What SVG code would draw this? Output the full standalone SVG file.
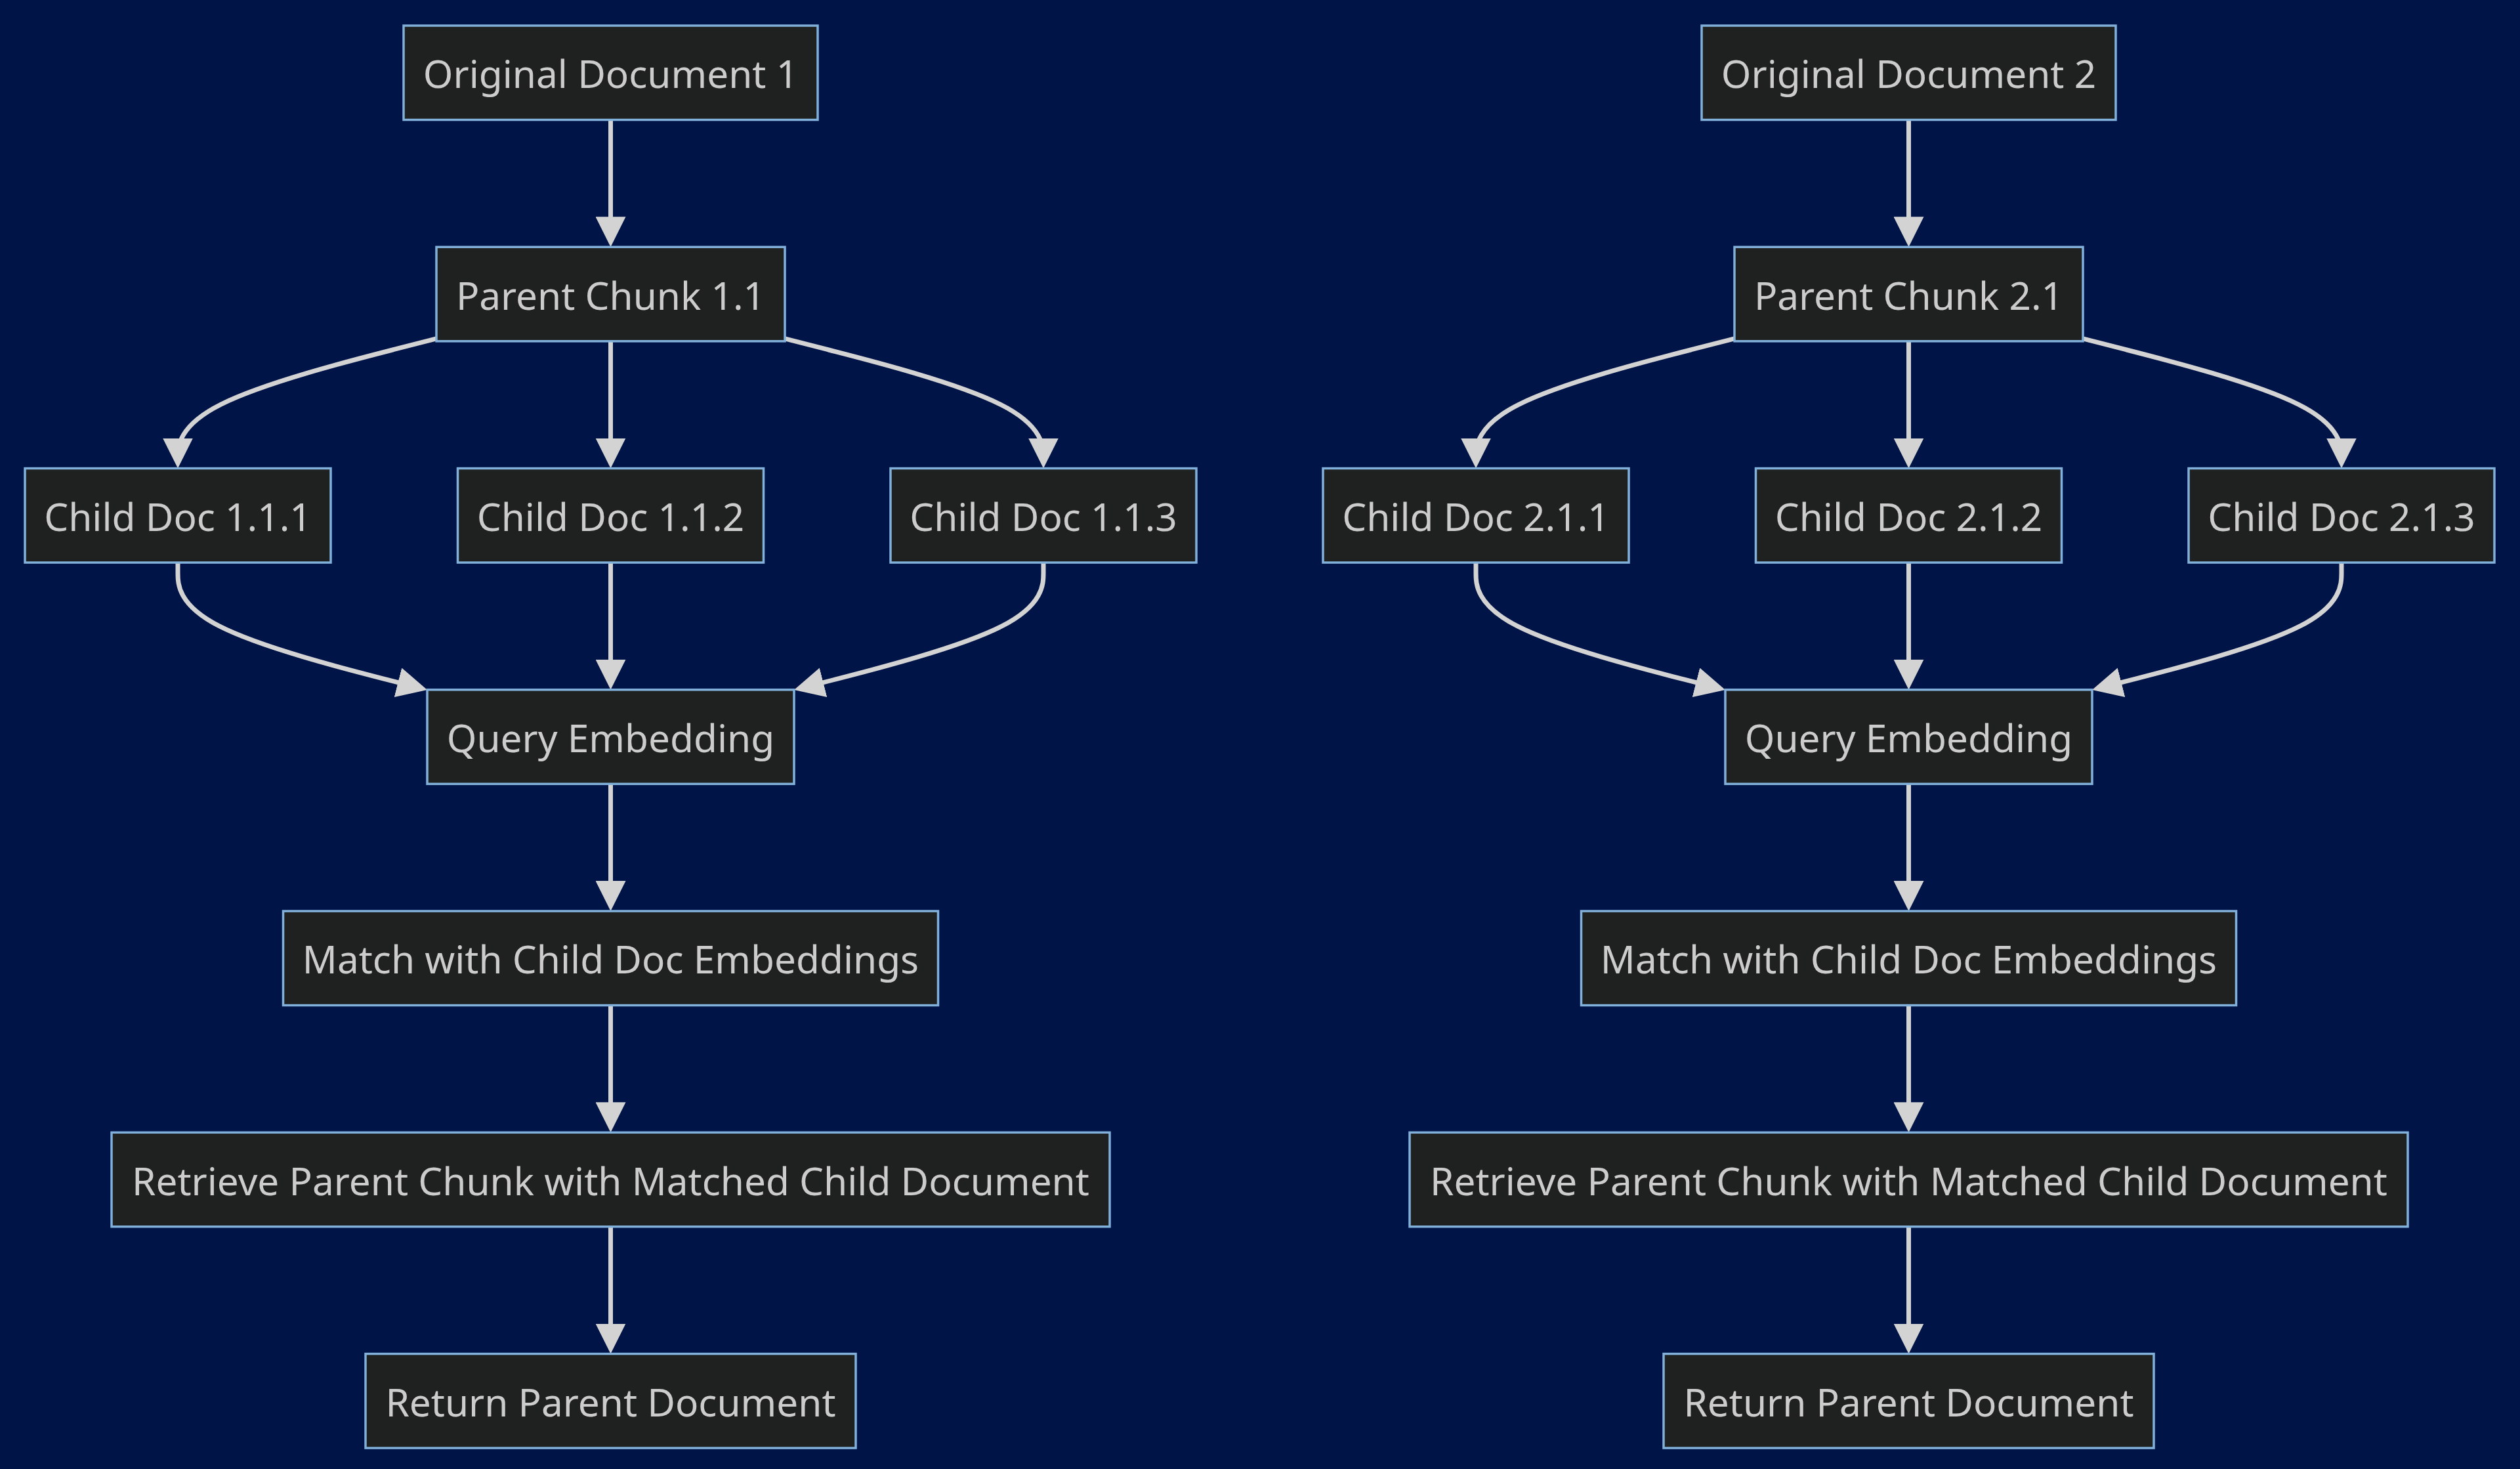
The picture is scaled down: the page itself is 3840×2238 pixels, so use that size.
<svg xmlns="http://www.w3.org/2000/svg" width="3840" height="2238" viewBox="0 0 3840 2238">
<style>
.node rect{fill:#1f2020;stroke:#81b1db;stroke-width:3.5}
.node text{fill:#cccccc;font-family:"Noto Sans","Open Sans","DejaVu Sans",sans-serif;font-size:58.5px;text-anchor:middle}
.edge{fill:none;stroke:#d3d3d3;stroke-width:7;marker-end:url(#arrow)}
</style>
<defs>
<marker id="arrow" markerUnits="userSpaceOnUse" viewBox="0 0 46 46" markerWidth="46" markerHeight="46" refX="38" refY="23" orient="auto">
<path d="M0,0 L46,23 L0,46 z" fill="#d3d3d3"/>
</marker>
</defs>
<rect x="0" y="0" width="3840" height="2238" fill="#011447"/>
<g id="connectors">
<path class="edge" d="M930.5,182.55 L930.5,368.3"/>
<path class="edge" d="M665,515.94 L599.33,532.73 C533.67,549.52 402.33,583.1 336.67,616.04 C271,648.97 271,681.26 271,697.4 L271,705.55"/>
<path class="edge" d="M930.5,519.8 L930.5,705.55"/>
<path class="edge" d="M1196,515.94 L1261.67,532.73 C1327.33,549.52 1458.67,583.1 1524.33,616.04 C1590,648.97 1590,681.26 1590,697.4 L1590,705.55"/>
<path class="edge" d="M271,857.05 L271,873.2 C271,889.34 271,921.64 334.33,953.98 C397.67,986.32 524.33,1018.7 587.67,1034.9 L643.25,1049.11"/>
<path class="edge" d="M930.5,857.05 L930.5,1042.8"/>
<path class="edge" d="M1590,857.05 L1590,873.2 C1590,889.34 1590,921.64 1526.67,953.98 C1463.33,986.32 1336.67,1018.7 1273.33,1034.9 L1217.75,1049.11"/>
<path class="edge" d="M930.5,1194.3 L930.5,1380.05"/>
<path class="edge" d="M930.5,1531.55 L930.5,1717.3"/>
<path class="edge" d="M930.5,1868.8 L930.5,2054.55"/>
<path class="edge" d="M2908.5,182.55 L2908.5,368.3"/>
<path class="edge" d="M2643,515.94 L2577.33,532.73 C2511.67,549.52 2380.33,583.1 2314.67,616.04 C2249,648.97 2249,681.26 2249,697.4 L2249,705.55"/>
<path class="edge" d="M2908.5,519.8 L2908.5,705.55"/>
<path class="edge" d="M3174,515.94 L3239.67,532.73 C3305.33,549.52 3436.67,583.1 3502.33,616.04 C3568,648.97 3568,681.26 3568,697.4 L3568,705.55"/>
<path class="edge" d="M2249,857.05 L2249,873.2 C2249,889.34 2249,921.64 2312.33,953.98 C2375.67,986.32 2502.33,1018.7 2565.67,1034.9 L2621.25,1049.11"/>
<path class="edge" d="M2908.5,857.05 L2908.5,1042.8"/>
<path class="edge" d="M3568,857.05 L3568,873.2 C3568,889.34 3568,921.64 3504.67,953.98 C3441.33,986.32 3314.67,1018.7 3251.33,1034.9 L3195.75,1049.11"/>
<path class="edge" d="M2908.5,1194.3 L2908.5,1380.05"/>
<path class="edge" d="M2908.5,1531.55 L2908.5,1717.3"/>
<path class="edge" d="M2908.5,1868.8 L2908.5,2054.55"/>
</g>
<g id="orig1" class="node"><rect x="615" y="39.05" width="631" height="143.5"/><text x="930.5" y="134.3">Original Document 1</text></g>
<g id="parent11" class="node"><rect x="665" y="376.3" width="531" height="143.5"/><text x="930.5" y="471.55">Parent Chunk 1.1</text></g>
<g id="child111" class="node"><rect x="38" y="713.55" width="466" height="143.5"/><text x="271" y="808.8">Child Doc 1.1.1</text></g>
<g id="child112" class="node"><rect x="697.5" y="713.55" width="466" height="143.5"/><text x="930.5" y="808.8">Child Doc 1.1.2</text></g>
<g id="child113" class="node"><rect x="1357" y="713.55" width="466" height="143.5"/><text x="1590" y="808.8">Child Doc 1.1.3</text></g>
<g id="query1" class="node"><rect x="651" y="1050.8" width="559" height="143.5"/><text x="930.5" y="1146.05">Query Embedding</text></g>
<g id="match1" class="node"><rect x="431.5" y="1388.05" width="998" height="143.5"/><text x="930.5" y="1483.3">Match with Child Doc Embeddings</text></g>
<g id="retrieve1" class="node"><rect x="170" y="1725.3" width="1521" height="143.5"/><text x="930.5" y="1820.55">Retrieve Parent Chunk with Matched Child Document</text></g>
<g id="return1" class="node"><rect x="557" y="2062.55" width="747" height="143.5"/><text x="930.5" y="2157.8">Return Parent Document</text></g>
<g id="orig2" class="node"><rect x="2593" y="39.05" width="631" height="143.5"/><text x="2908.5" y="134.3">Original Document 2</text></g>
<g id="parent21" class="node"><rect x="2643" y="376.3" width="531" height="143.5"/><text x="2908.5" y="471.55">Parent Chunk 2.1</text></g>
<g id="child211" class="node"><rect x="2016" y="713.55" width="466" height="143.5"/><text x="2249" y="808.8">Child Doc 2.1.1</text></g>
<g id="child212" class="node"><rect x="2675.5" y="713.55" width="466" height="143.5"/><text x="2908.5" y="808.8">Child Doc 2.1.2</text></g>
<g id="child213" class="node"><rect x="3335" y="713.55" width="466" height="143.5"/><text x="3568" y="808.8">Child Doc 2.1.3</text></g>
<g id="query2" class="node"><rect x="2629" y="1050.8" width="559" height="143.5"/><text x="2908.5" y="1146.05">Query Embedding</text></g>
<g id="match2" class="node"><rect x="2409.5" y="1388.05" width="998" height="143.5"/><text x="2908.5" y="1483.3">Match with Child Doc Embeddings</text></g>
<g id="retrieve2" class="node"><rect x="2148" y="1725.3" width="1521" height="143.5"/><text x="2908.5" y="1820.55">Retrieve Parent Chunk with Matched Child Document</text></g>
<g id="return2" class="node"><rect x="2535" y="2062.55" width="747" height="143.5"/><text x="2908.5" y="2157.8">Return Parent Document</text></g>
</svg>
